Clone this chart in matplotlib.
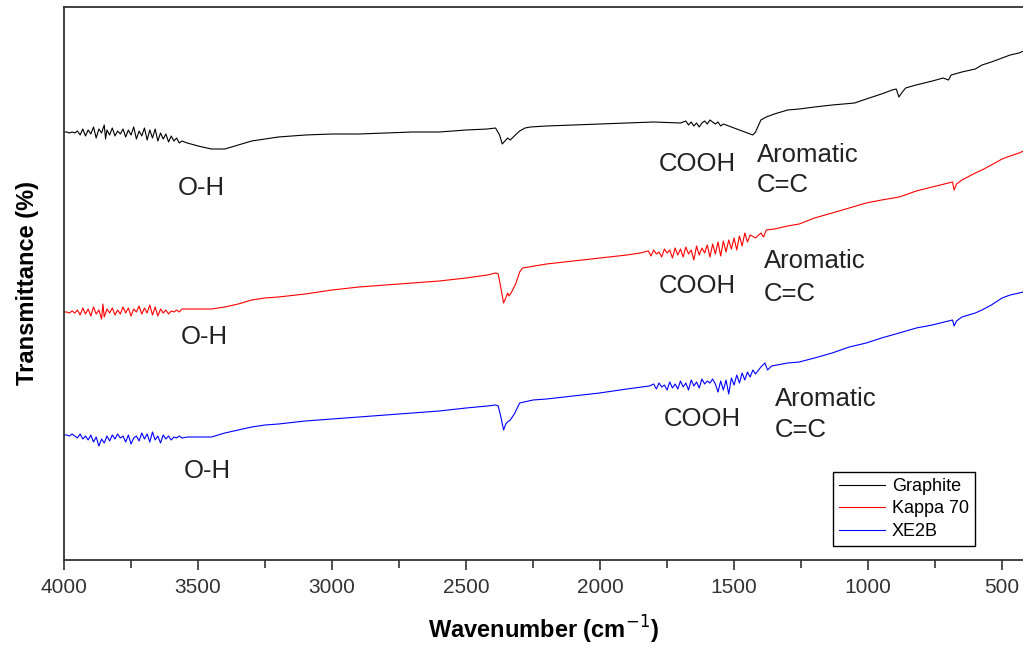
import matplotlib
matplotlib.use("Agg")
import matplotlib.pyplot as plt
from matplotlib.ticker import MultipleLocator

plt.rcParams["font.family"] = ["Liberation Sans", "DejaVu Sans"]

# FTIR spectra, transmittance in arbitrary (offset) units
graphite_wn = [4000, 3990, 3980, 3970, 3960, 3950, 3940, 3930, 3920, 3910, 3900, 3890, 3880,
               3870, 3860, 3850, 3845, 3840, 3830, 3820, 3810, 3800, 3790, 3780, 3770, 3760,
               3750, 3740, 3730, 3720, 3710, 3700, 3690, 3680, 3670, 3660, 3650, 3640, 3630,
               3620, 3610, 3600, 3590, 3580, 3570, 3560, 3540, 3500, 3450, 3400, 3350, 3300,
               3250, 3200, 3100, 3000, 2900, 2800, 2700, 2600, 2500, 2420, 2390, 2375, 2365,
               2355, 2345, 2335, 2320, 2300, 2280, 2260, 2200, 2100, 2000, 1900, 1800, 1700,
               1680, 1670, 1660, 1650, 1640, 1630, 1620, 1610, 1600, 1590, 1580, 1570, 1560,
               1550, 1540, 1520, 1500, 1480, 1460, 1440, 1430, 1420, 1410, 1400, 1380, 1350,
               1300, 1257, 1200, 1134, 1050, 1007, 950, 910, 895, 885, 875, 860, 821, 760,
               720, 700, 690, 650, 600, 575, 540, 500, 470, 437, 420]
graphite_t = [428, 428, 427, 428, 427, 429, 425, 431, 424, 430, 426, 433, 422,
              431, 427, 435, 421, 430, 425, 432, 424, 429, 426, 431, 423, 430,
              425, 433, 421, 429, 424, 432, 420, 430, 422, 431, 419, 427, 421,
              426, 418, 424, 419, 422, 417, 419, 417, 414, 411, 411, 415, 419,
              421, 423, 425, 426, 426, 427, 428, 428, 430, 431, 432, 425, 416,
              419, 422, 420, 424, 429, 432, 433, 434, 435, 436, 437, 438, 437,
              439, 435, 438, 434, 437, 433, 437, 439, 436, 440, 438, 436, 438,
              434, 436, 434, 432, 430, 428, 426, 425, 428, 434, 440, 443, 446,
              450, 451, 453, 455, 457, 461, 466, 470, 471, 463, 467, 472, 475, 479,
              482, 480, 485, 488, 491, 495, 498, 502, 505, 507, 509]

kappa_wn = [4000, 3990, 3980, 3970, 3960, 3950, 3940, 3930, 3920, 3910, 3900, 3890, 3880,
            3870, 3860, 3855, 3850, 3840, 3830, 3820, 3810, 3800, 3790, 3780, 3770, 3760,
            3750, 3740, 3730, 3720, 3710, 3700, 3690, 3680, 3670, 3660, 3650, 3640, 3630,
            3620, 3610, 3600, 3590, 3580, 3570, 3560, 3540, 3500, 3450, 3400, 3350, 3300,
            3250, 3200, 3100, 3000, 2900, 2800, 2700, 2600, 2500, 2420, 2390, 2380, 2370,
            2360, 2352, 2345, 2340, 2330, 2315, 2300, 2289, 2200, 2100, 2002, 1900, 1850,
            1820, 1810, 1800, 1790, 1780, 1770, 1760, 1750, 1740, 1730, 1720, 1710, 1700,
            1690, 1680, 1670, 1660, 1650, 1640, 1630, 1620, 1610, 1600, 1590, 1580, 1570,
            1560, 1550, 1540, 1530, 1520, 1510, 1500, 1490, 1480, 1470, 1460, 1450, 1440,
            1420, 1400, 1390, 1380, 1350, 1300, 1257, 1200, 1134, 1070, 1007, 950, 884,
            820, 761, 700, 685, 679, 670, 650, 600, 575, 540, 500, 470, 437, 420]
kappa_t = [248, 248, 247, 249, 247, 250, 245, 252, 246, 251, 244, 253, 246,
           250, 241, 256, 243, 251, 247, 252, 245, 250, 246, 253, 247, 252,
           244, 251, 248, 254, 246, 252, 247, 255, 245, 253, 244, 251, 247,
           250, 246, 249, 248, 250, 248, 251, 251, 251, 251, 253, 256, 260,
           262, 263, 266, 270, 273, 275, 277, 279, 282, 285, 287, 286, 272,
           257, 262, 267, 264, 268, 276, 288, 292, 296, 299, 302, 305, 307,
           309, 304, 310, 306, 308, 303, 311, 307, 310, 302, 312, 305, 311,
           303, 313, 306, 310, 300, 314, 305, 312, 307, 315, 303, 316, 306,
           318, 304, 319, 308, 320, 311, 322, 310, 324, 314, 327, 318, 325,
           322, 327, 323, 330, 331, 334, 336, 342, 347, 352, 357, 360, 363,
           369, 373, 377, 378, 370, 376, 380, 387, 390, 395, 401, 404, 407, 409]

xe2b_wn = [4000, 3990, 3980, 3970, 3960, 3950, 3940, 3930, 3920, 3910, 3900, 3890, 3880,
           3870, 3860, 3850, 3840, 3830, 3820, 3810, 3800, 3790, 3780, 3770, 3760, 3750,
           3740, 3730, 3720, 3710, 3700, 3690, 3680, 3670, 3660, 3650, 3640, 3630, 3620,
           3610, 3600, 3590, 3580, 3570, 3560, 3540, 3500, 3450, 3400, 3350, 3300, 3250,
           3200, 3100, 3000, 2900, 2800, 2700, 2600, 2500, 2420, 2390, 2380, 2370, 2360,
           2352, 2345, 2335, 2320, 2300, 2250, 2200, 2100, 2002, 1900, 1816, 1800, 1790,
           1780, 1770, 1760, 1750, 1740, 1730, 1720, 1710, 1700, 1690, 1680, 1670, 1660,
           1650, 1640, 1630, 1620, 1610, 1600, 1590, 1580, 1570, 1560, 1550, 1540, 1530,
           1520, 1510, 1500, 1490, 1480, 1470, 1460, 1450, 1440, 1430, 1420, 1400, 1385,
           1375, 1360, 1340, 1300, 1257, 1200, 1134, 1070, 1007, 950, 884, 820, 761, 700,
           685, 679, 670, 650, 600, 575, 540, 500, 470, 437, 420]
xe2b_t = [125, 125, 124, 126, 124, 122, 126, 121, 124, 120, 125, 118, 123,
          114, 121, 117, 124, 119, 125, 121, 126, 122, 124, 118, 125, 116,
          122, 124, 119, 127, 121, 126, 118, 128, 120, 124, 117, 125, 121,
          124, 120, 123, 122, 124, 122, 123, 123, 123, 127, 130, 133, 135,
          136, 139, 141, 143, 145, 147, 149, 152, 154, 155, 154, 143, 130,
          136, 138, 140, 146, 157, 160, 161, 164, 167, 171, 174, 176, 171,
          177, 173, 175, 170, 178, 172, 176, 171, 179, 173, 177, 170, 180,
          174, 178, 172, 181, 176, 179, 177, 181, 176, 168, 179, 170, 180,
          166, 182, 175, 185, 177, 187, 180, 188, 183, 190, 186, 193, 197,
          190, 194, 195, 197, 198, 202, 207, 213, 217, 222, 227, 232, 235, 239,
          240, 234, 239, 243, 247, 250, 255, 262, 265, 267, 268]

# band labels: (wavenumber, transmittance)
oh_pos = [(3489, 372), (3478, 223), (3466, 89)]
cooh_pos = [(1638, 396), (1638, 274), (1619, 141)]
arom_pos = [(1414, 405, 375), (1388, 299, 266), (1347, 161, 130)]

fig = plt.figure(figsize=(10.23, 6.48), dpi=100)
ax = fig.add_axes([0.0626, 0.1358, 0.9374, 0.8534])

ax.plot(graphite_wn, graphite_t, color="black", lw=0.8, label="Graphite")
ax.plot(kappa_wn, kappa_t, color="red", lw=0.8, label="Kappa 70")
ax.plot(xe2b_wn, xe2b_t, color="blue", lw=0.8, label="XE2B")

lab_kw = dict(fontsize=18.5, color="#222222", va="center")
for x, y in oh_pos:
    ax.text(x, y, "O-H", ha="center", **lab_kw)
for x, y in cooh_pos:
    ax.text(x, y, "COOH", ha="center", **lab_kw)
for x, y1, y2 in arom_pos:
    ax.text(x, y1, "Aromatic", ha="left", **lab_kw)
    ax.text(x, y2, "C=C", ha="left", **lab_kw)

ax.set_xlim(4000, 422)
ax.set_ylim(0, 553)
ax.xaxis.set_major_locator(MultipleLocator(500))
ax.xaxis.set_minor_locator(MultipleLocator(250))
ax.tick_params(axis="x", which="major", direction="out", length=7, width=1.2,
               labelsize=15, labelcolor="#333333", pad=6, color="#333333")
ax.tick_params(axis="x", which="minor", direction="out", length=6, width=1.2,
               color="#333333")
ax.set_yticks([])
for side in ["left", "bottom", "top"]:
    ax.spines[side].set_linewidth(1.3)
    ax.spines[side].set_color("#333333")
ax.spines["right"].set_visible(False)

ax.set_xlabel("Wavenumber (cm$^{-1}$)", fontsize=17, fontweight="bold", labelpad=12)
ax.set_ylabel("Transmittance (%)", fontsize=17, fontweight="bold", labelpad=18)

leg = ax.legend(loc="lower right", bbox_to_anchor=(0.950, 0.025), borderaxespad=0,
                fontsize=13, fancybox=False, edgecolor="black", framealpha=1,
                handlelength=2.5, labelspacing=0.3, borderpad=0.35, handletextpad=0.4)
leg.get_frame().set_linewidth(1.0)

fig.savefig("out.png", dpi=100)
